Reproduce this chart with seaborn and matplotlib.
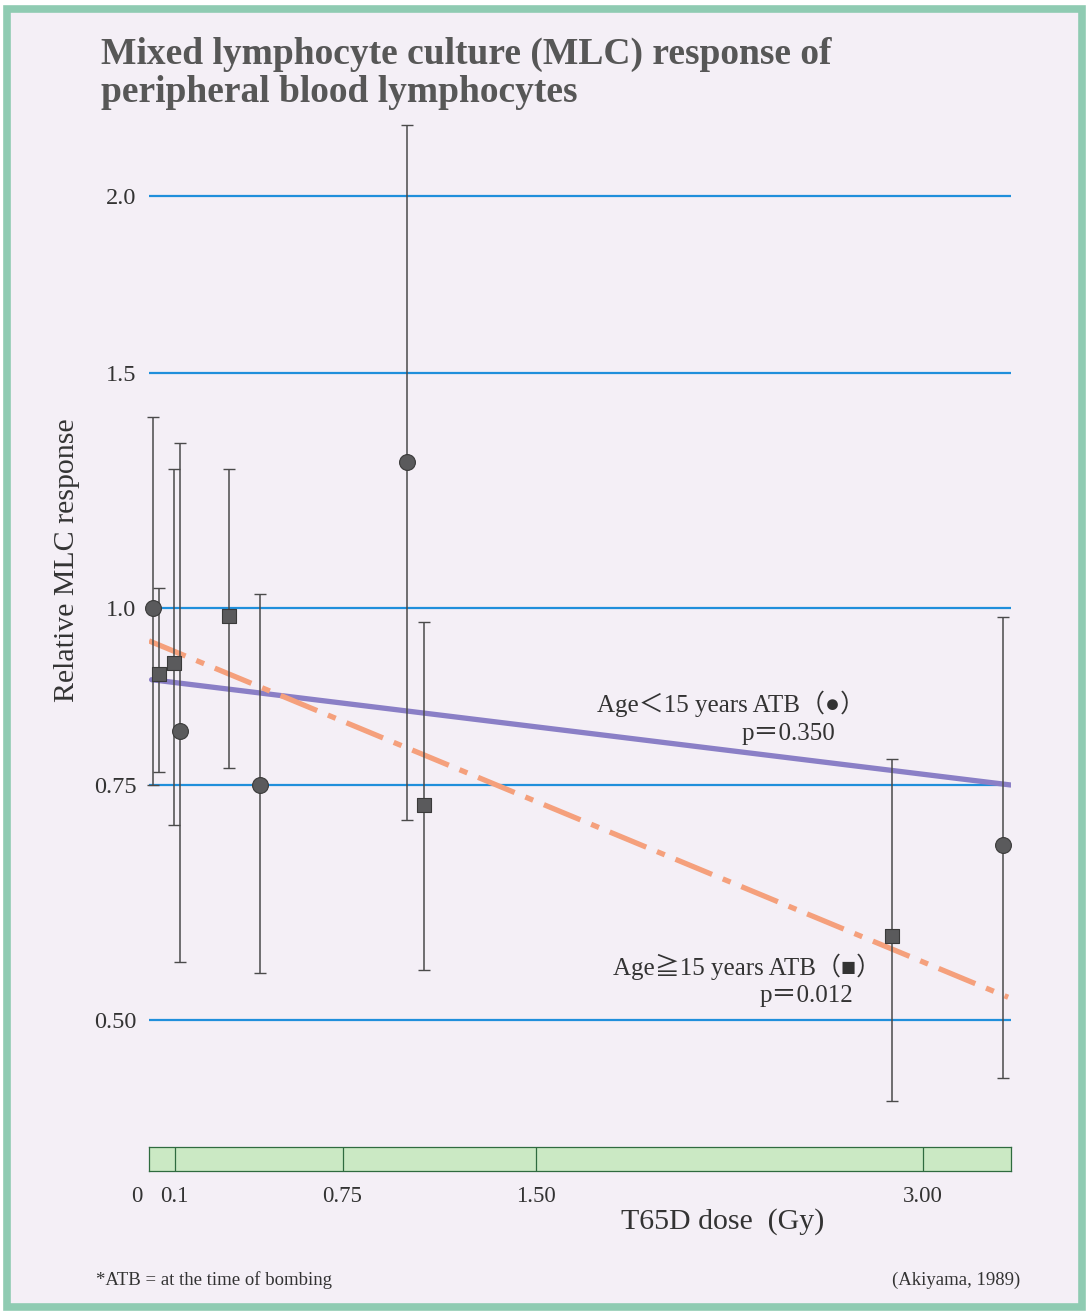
"""
MLC response of peripheral blood lymphocytes vs T65D dose
"""

import numpy as np
import pandas as pd
import matplotlib
matplotlib.use("Agg")
import matplotlib.pyplot as plt
import matplotlib.transforms as mtransforms
from matplotlib.patches import Rectangle
import seaborn as sns

# Age < 15 years ATB (circles)
young_dose = [0.015, 0.12, 0.43, 1.0, 3.31]
young_mlc = [1.0, 0.819, 0.75, 1.286, 0.676]
young_low = [0.75, 0.553, 0.542, 0.706, 0.452]
young_high = [1.39, 1.329, 1.025, 2.245, 0.986]

# Age >= 15 years ATB (squares)
old_dose = [0.04, 0.095, 0.31, 1.065, 2.88]
old_mlc = [0.898, 0.915, 0.987, 0.725, 0.578]
old_low = [0.766, 0.700, 0.771, 0.545, 0.435]
old_high = [1.035, 1.271, 1.271, 0.978, 0.782]

# regression lines (end points)
fit_dose = [0.01, 3.34]
fit_young = [0.89, 0.75]
fit_old_dose = [0.0, 3.33]
fit_old = [0.948, 0.52]

y_ticks = [0.5, 0.75, 1.0, 1.5, 2.0]
y_ticklabels = ["0.50", "0.75", "1.0", "1.5", "2.0"]
dose_bounds = [0.1, 0.75, 1.5, 3.0]
x_ticks = [0, 0.1, 0.75, 1.5, 3.0]
x_ticklabels = ["0", "0.1", "0.75", "1.50", "3.00"]

W, H = 1088, 1313
SERIF = ["Liberation Serif", "Noto Sans CJK JP", "DejaVu Serif"]

# the printed axis is roughly logarithmic, but the gaps are drawn unevenly:
# each gridline gets its own height and the scale is log-linear between them
grid_pos = np.array([-1020.0, -785.0, -608.0, -373.0, -196.0])
grid_log = np.log(y_ticks)


def _fwd(y):
    l = np.log(np.clip(y, 1e-6, None))
    out = np.interp(l, grid_log, grid_pos)
    lo_slope = (grid_pos[1] - grid_pos[0]) / (grid_log[1] - grid_log[0])
    hi_slope = (grid_pos[-1] - grid_pos[-2]) / (grid_log[-1] - grid_log[-2])
    out = np.where(l < grid_log[0], grid_pos[0] + (l - grid_log[0]) * lo_slope, out)
    out = np.where(l > grid_log[-1], grid_pos[-1] + (l - grid_log[-1]) * hi_slope, out)
    return out


def _inv(g):
    l = np.interp(g, grid_pos, grid_log)
    lo_slope = (grid_pos[1] - grid_pos[0]) / (grid_log[1] - grid_log[0])
    hi_slope = (grid_pos[-1] - grid_pos[-2]) / (grid_log[-1] - grid_log[-2])
    l = np.where(g < grid_pos[0], grid_log[0] + (g - grid_pos[0]) / lo_slope, l)
    l = np.where(g > grid_pos[-1], grid_log[-1] + (g - grid_pos[-1]) / hi_slope, l)
    return np.exp(l)


def fx(px):
    return px / W


def fy(py):
    return 1 - py / H


sns.set_theme(style="white")
plt.rcParams["font.family"] = SERIF
plt.rcParams["axes.unicode_minus"] = False

fig = plt.figure(figsize=(W / 100, H / 100), dpi=100)
fig.patch.set_facecolor("white")

# page background with green frame
fig.patches.append(Rectangle((fx(7), fy(1307)), fx(1075), 1298 / H, transform=fig.transFigure,
                             facecolor="#f4eff6", edgecolor="#8fcbb2", linewidth=5.5, zorder=-10))

ax = fig.add_axes([fx(149), fy(1130), fx(862), 1030 / H])
ax.patch.set_alpha(0)
ax.set_yscale("function", functions=(_fwd, _inv))
ax.set_xlim(0, 3.341)
ax.set_ylim(_inv(-1130.0), _inv(-100.0))

for v in y_ticks:
    ax.axhline(v, color="#1f8fdb", lw=1.6, zorder=1)

df_young = pd.DataFrame({"dose": young_dose, "mlc": young_mlc})
df_old = pd.DataFrame({"dose": old_dose, "mlc": old_mlc})

# regression lines
sns.lineplot(x=fit_dose, y=fit_young, ax=ax, color="#8a7fc6", lw=3.8, zorder=2)
sns.lineplot(x=fit_old_dose, y=fit_old, ax=ax, color="#f5a07c", lw=3.8,
             linestyle=(0, (7.5, 2.2, 1.6, 2.2)), zorder=2)

# error bars
for d, m, lo, hi in [(young_dose, young_mlc, young_low, young_high),
                     (old_dose, old_mlc, old_low, old_high)]:
    m = np.array(m)
    yerr = [m - np.array(lo), np.array(hi) - m]
    ax.errorbar(d, m, yerr=yerr, fmt="none", ecolor="#4a4a4a", elinewidth=1.1,
                capsize=4, capthick=1.0, zorder=3, clip_on=False)

sns.scatterplot(data=df_young, x="dose", y="mlc", ax=ax, marker="o", s=130,
                color="#5a5a5c", edgecolor="#3a3a3a", linewidth=0.8, zorder=4, clip_on=False)
sns.scatterplot(data=df_old, x="dose", y="mlc", ax=ax, marker="s", s=105,
                color="#5a5a5c", edgecolor="#3a3a3a", linewidth=0.8, zorder=4, clip_on=False)

ax.set_yticks(y_ticks)
ax.set_yticklabels(y_ticklabels)
ax.yaxis.set_minor_locator(matplotlib.ticker.NullLocator())
ax.tick_params(axis="y", length=0, pad=9, labelsize=17.5, labelcolor="#333333")
ax.set_xticks([])
ax.set_xlabel("")
ax.set_ylabel("Relative MLC response", fontsize=21.5, color="#333333")
ax.yaxis.set_label_coords(-0.0805, 0.553)
for s in ax.spines.values():
    s.set_visible(False)

# dose band
bx = fig.add_axes([fx(149), fy(1171), fx(862), 24 / H])
bx.set_facecolor("#cbe9c4")
bx.set_xlim(0, 3.341)
bx.set_ylim(0, 1)
for b in dose_bounds:
    bx.axvline(b, color="#2f6b3f", lw=0.9)
for s in bx.spines.values():
    s.set_visible(True)
    s.set_color("#2f6b3f")
    s.set_linewidth(0.9)
bx.set_yticks([])
bx.set_xticks(x_ticks)
bx.set_xticklabels(x_ticklabels)
bx.tick_params(axis="x", length=0, pad=11, labelsize=16.5, labelcolor="#333333")
lab0 = bx.get_xticklabels()[0]
lab0.set_horizontalalignment("right")
lab0.set_transform(lab0.get_transform() + mtransforms.ScaledTranslation(-5 / 72, 0, fig.dpi_scale_trans))

fig.text(fx(723), fy(1222), "T65D dose  (Gy)", ha="center", va="center", fontsize=21.5, color="#333333")

# title
fig.text(fx(101), fy(64), "Mixed lymphocyte culture (MLC) response of", ha="left", va="baseline",
         fontsize=27, fontweight="bold", color="#575757")
fig.text(fx(101), fy(102), "peripheral blood lymphocytes", ha="left", va="baseline",
         fontsize=27, fontweight="bold", color="#575757")

# annotations
fig.text(fx(597), fy(712), "Age＜15 years ATB（●）", ha="left", va="baseline", fontsize=18, color="#333333")
fig.text(fx(835), fy(740), "p＝0.350", ha="right", va="baseline", fontsize=18, color="#333333")
fig.text(fx(613), fy(975), "Age≧15 years ATB（■）", ha="left", va="baseline", fontsize=18, color="#333333")
fig.text(fx(853), fy(1002), "p＝0.012", ha="right", va="baseline", fontsize=18, color="#333333")

# footnotes
fig.text(fx(96), fy(1280), "*ATB = at the time of bombing", ha="left", va="center", fontsize=13.5, color="#333333")
fig.text(fx(1020), fy(1280), "(Akiyama, 1989)", ha="right", va="center", fontsize=13.5, color="#333333")

fig.savefig("out.png", dpi=100)
